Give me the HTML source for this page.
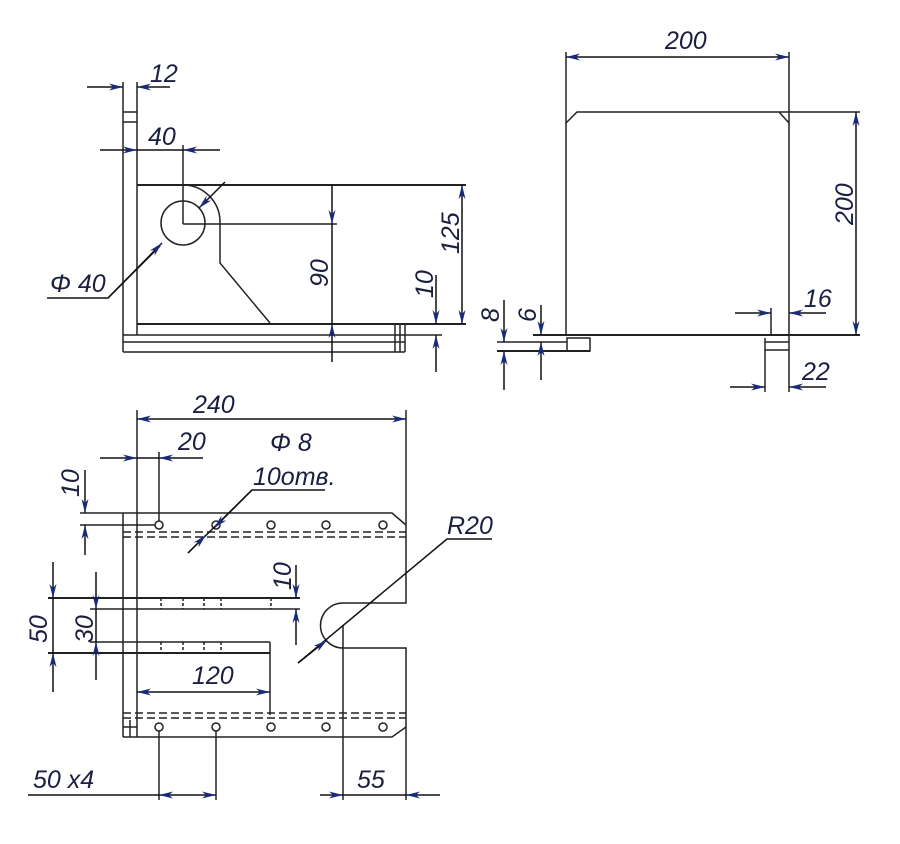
<!DOCTYPE html>
<html><head><meta charset="utf-8"><style>
html,body{margin:0;padding:0;background:#fff;}
svg{display:block}
text{font-family:"Liberation Sans",sans-serif;font-style:italic;font-size:25px;fill:#1a1f40;}
</style></head><body>
<svg width="900" height="844" viewBox="0 0 900 844" xmlns="http://www.w3.org/2000/svg">
<defs>
<marker id="a" viewBox="0 0 14 7" refX="14" refY="3.5" markerWidth="14" markerHeight="7" orient="auto-start-reverse" markerUnits="userSpaceOnUse">
<path d="M0,0 L14,3.5 L0,7 L4,3.5 z" fill="#1a2a7a"/></marker>
</defs>
<g stroke="#222" stroke-width="1.5" fill="none">
<line x1="123" y1="82" x2="123" y2="352"/>
<line x1="137" y1="82" x2="137" y2="335"/>
<line x1="123" y1="112" x2="137" y2="112"/><line x1="123" y1="122" x2="137" y2="122"/>
<line x1="137" y1="185" x2="466" y2="185" stroke-width="2"/>
<circle cx="183" cy="223" r="22"/>
<path d="M183,185 A37,37 0 0 1 220,222 L220,263 L270,323"/>
<line x1="183" y1="224" x2="337" y2="224"/>
<line x1="183" y1="145" x2="183" y2="224"/>
<line x1="137" y1="324" x2="466" y2="324" stroke-width="2"/>
<line x1="123" y1="335" x2="442" y2="335"/>
<line x1="123" y1="342" x2="405" y2="342"/>
<line x1="123" y1="352" x2="405" y2="352"/>
<line x1="405" y1="324" x2="405" y2="352"/>
<line x1="395" y1="324" x2="395" y2="352"/>
<line x1="400" y1="324" x2="400" y2="352"/>
<path d="M566,335 L566,123 L577,112 L860,112"/>
<path d="M779,112 L789,123"/>
<line x1="789" y1="52" x2="789" y2="392"/>
<line x1="566" y1="52" x2="566" y2="123"/>
<line x1="533" y1="335" x2="860" y2="335" stroke-width="2"/>
<line x1="497" y1="342" x2="567" y2="342"/>
<line x1="497" y1="351" x2="590" y2="351" stroke-width="2"/>
<rect x="567" y="338" width="23" height="13"/>
<line x1="765" y1="342" x2="789" y2="342"/>
<line x1="765" y1="338" x2="765" y2="392"/>
<line x1="765" y1="350" x2="789" y2="350"/>
<line x1="771" y1="308" x2="771" y2="335"/>
<line x1="137" y1="410" x2="137" y2="737"/>
<line x1="406" y1="410" x2="406" y2="525"/>
<line x1="123" y1="513" x2="123" y2="737"/>
<path d="M80,513 L392,513 L406,525"/>
<line x1="80" y1="525" x2="155" y2="525"/>
<line x1="159" y1="452" x2="159" y2="521"/>
<line x1="123" y1="532" x2="406" y2="532" stroke-dasharray="8,4"/>
<line x1="123" y1="537" x2="406" y2="537" stroke-dasharray="8,4"/>
<path d="M406,525 L406,603 L343,603 A22,22 0 0 0 343,648 L406,648 L406,727 L392,737 L123,737"/>
<line x1="343" y1="625" x2="343" y2="800"/>
<line x1="406" y1="727" x2="406" y2="800"/>
<line x1="123" y1="713" x2="406" y2="713" stroke-dasharray="8,4"/>
<line x1="123" y1="718" x2="406" y2="718" stroke-dasharray="8,4"/>
<line x1="123" y1="727" x2="137" y2="727"/>
<line x1="130" y1="720" x2="130" y2="737"/>
<g>
<circle cx="159" cy="525" r="4"/><circle cx="216" cy="525" r="4"/><circle cx="271" cy="525" r="4"/><circle cx="326" cy="525" r="4"/><circle cx="383" cy="525" r="4"/>
<circle cx="159" cy="727" r="4"/><circle cx="216" cy="727" r="4"/><circle cx="271" cy="727" r="4"/><circle cx="326" cy="727" r="4"/><circle cx="383" cy="727" r="4"/>
</g>
<line x1="159" y1="731" x2="159" y2="800"/>
<line x1="216" y1="731" x2="216" y2="800"/>
<line x1="48" y1="598" x2="300" y2="598" stroke-width="2"/>
<line x1="90" y1="609" x2="300" y2="609"/>
<line x1="90" y1="642" x2="270" y2="642"/>
<line x1="48" y1="653" x2="270" y2="653" stroke-width="2"/>
<line x1="270" y1="642" x2="270" y2="715"/>
<g stroke-dasharray="3,2">
<line x1="161" y1="598" x2="161" y2="609"/><line x1="183" y1="598" x2="183" y2="609"/><line x1="204" y1="598" x2="204" y2="609"/><line x1="221" y1="598" x2="221" y2="609"/><line x1="271" y1="598" x2="271" y2="609"/>
<line x1="161" y1="642" x2="161" y2="653"/><line x1="183" y1="642" x2="183" y2="653"/><line x1="204" y1="642" x2="204" y2="653"/><line x1="221" y1="642" x2="221" y2="653"/>
</g>
</g>
<g stroke="#111" stroke-width="1.5" fill="none">
<line x1="87" y1="87" x2="123" y2="87" marker-end="url(#a)"/>
<line x1="170" y1="87" x2="137" y2="87" marker-end="url(#a)"/>
<line x1="100" y1="150" x2="137" y2="150" marker-end="url(#a)"/>
<line x1="137" y1="150" x2="183" y2="150"/>
<line x1="220" y1="150" x2="183" y2="150" marker-end="url(#a)"/>
<line x1="332" y1="185" x2="332" y2="224" marker-end="url(#a)"/>
<line x1="332" y1="362" x2="332" y2="324" marker-end="url(#a)"/>
<line x1="332" y1="224" x2="332" y2="324"/>
<line x1="462" y1="185" x2="462" y2="324" marker-start="url(#a)" marker-end="url(#a)"/>
<line x1="436" y1="275" x2="436" y2="324" marker-end="url(#a)"/>
<line x1="436" y1="372" x2="436" y2="335" marker-end="url(#a)"/>
<polyline points="47,298 108,298 160,246"/>
<line x1="108" y1="298" x2="162" y2="243" marker-end="url(#a)"/>
<line x1="225" y1="182" x2="199" y2="208" marker-end="url(#a)"/>
<line x1="566" y1="57" x2="789" y2="57" marker-start="url(#a)" marker-end="url(#a)"/>
<line x1="856" y1="112" x2="856" y2="335" marker-start="url(#a)" marker-end="url(#a)"/>
<line x1="735" y1="313" x2="771" y2="313" marker-end="url(#a)"/>
<line x1="826" y1="313" x2="789" y2="313" marker-end="url(#a)"/>
<line x1="730" y1="387" x2="765" y2="387" marker-end="url(#a)"/>
<line x1="826" y1="387" x2="789" y2="387" marker-end="url(#a)"/>
<line x1="504" y1="300" x2="504" y2="342" marker-end="url(#a)"/>
<line x1="504" y1="390" x2="504" y2="351" marker-end="url(#a)"/>
<line x1="541" y1="305" x2="541" y2="335" marker-end="url(#a)"/>
<line x1="541" y1="380" x2="541" y2="342" marker-end="url(#a)"/>
<line x1="137" y1="419" x2="406" y2="419" marker-start="url(#a)" marker-end="url(#a)"/>
<line x1="100" y1="458" x2="137" y2="458" marker-end="url(#a)"/>
<line x1="137" y1="458" x2="159" y2="458"/>
<line x1="203" y1="458" x2="159" y2="458" marker-end="url(#a)"/>
<line x1="85" y1="470" x2="85" y2="513" marker-end="url(#a)"/>
<line x1="85" y1="555" x2="85" y2="525" marker-end="url(#a)"/>
<polyline points="325,490 252,490 188,553"/>
<line x1="252" y1="490" x2="214" y2="528" marker-end="url(#a)"/>
<line x1="188" y1="553" x2="206" y2="535" marker-end="url(#a)"/>
<line x1="53" y1="562" x2="53" y2="598" marker-end="url(#a)"/>
<line x1="53" y1="692" x2="53" y2="653" marker-end="url(#a)"/>
<line x1="53" y1="598" x2="53" y2="653"/>
<line x1="96" y1="572" x2="96" y2="609" marker-end="url(#a)"/>
<line x1="96" y1="680" x2="96" y2="642" marker-end="url(#a)"/>
<line x1="96" y1="609" x2="96" y2="642"/>
<line x1="296" y1="565" x2="296" y2="598" marker-end="url(#a)"/>
<line x1="296" y1="645" x2="296" y2="609" marker-end="url(#a)"/>
<line x1="137" y1="692" x2="270" y2="692" marker-start="url(#a)" marker-end="url(#a)"/>
<polyline points="492,539 447,539 298,663"/>
<line x1="298" y1="663" x2="327" y2="640" marker-end="url(#a)"/>
<line x1="28" y1="795" x2="159" y2="795"/>
<line x1="159" y1="795" x2="216" y2="795" marker-start="url(#a)" marker-end="url(#a)"/>
<line x1="320" y1="795" x2="343" y2="795" marker-end="url(#a)"/>
<line x1="440" y1="795" x2="406" y2="795" marker-end="url(#a)"/>
<line x1="343" y1="795" x2="406" y2="795"/>
</g>
<g>
<text x="150" y="82">12</text>
<text x="148" y="145">40</text>
<text x="50" y="292">Φ 40</text>
<text transform="translate(328,287) rotate(-90)">90</text>
<text transform="translate(459,254) rotate(-90)">125</text>
<text transform="translate(433,298) rotate(-90)">10</text>
<text x="665" y="49">200</text>
<text transform="translate(853,225) rotate(-90)">200</text>
<text x="804" y="307">16</text>
<text x="802" y="380">22</text>
<text transform="translate(499,322) rotate(-90)">8</text>
<text transform="translate(536,322) rotate(-90)">6</text>
<text x="193" y="413">240</text>
<text x="178" y="450">20</text>
<text x="270" y="451">Φ 8</text>
<text x="253" y="485">10отв.</text>
<text transform="translate(79,497) rotate(-90)">10</text>
<text transform="translate(47,643) rotate(-90)">50</text>
<text transform="translate(93,643) rotate(-90)">30</text>
<text transform="translate(291,590) rotate(-90)">10</text>
<text x="192" y="684">120</text>
<text x="447" y="534">R20</text>
<text x="33" y="788">50  x4</text>
<text x="357" y="788">55</text>
</g>
</svg>
</body></html>
